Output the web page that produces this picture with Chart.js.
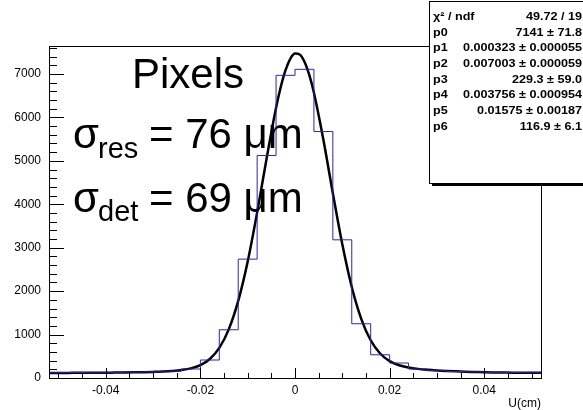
<!DOCTYPE html>
<html>
<head>
<meta charset="utf-8">
<script src="https://cdn.jsdelivr.net/npm/chart.js@4"></script>
<style>
  body { margin: 0; background: #fff; }
  canvas { display: block; }
</style>
</head>
<body>
<canvas id="resChart" width="583" height="410"></canvas>
<script>
// Histogram bin edges (cm) and bin contents
const binEdges = [-0.052, -0.048, -0.044, -0.040, -0.036, -0.032, -0.028, -0.024, -0.020, -0.016, -0.012, -0.008, -0.004,
                  0, 0.004, 0.008, 0.012, 0.016, 0.020, 0.024, 0.028, 0.032, 0.036, 0.040, 0.044, 0.048, 0.052];
const binCounts = [120, 125, 118, 130, 135, 140, 160, 207, 414, 1111, 2737, 5123, 6970,
                   7108, 5675, 3182, 1249, 535, 345, 207, 168, 150, 140, 130, 125, 120];

// Fit curve
const fitX = [-0.052, -0.050, -0.048, -0.046, -0.044, -0.042, -0.040, -0.038, -0.036, -0.034, -0.032, -0.030,
              -0.028, -0.026, -0.024, -0.022, -0.020, -0.018, -0.016, -0.014, -0.012, -0.010, -0.008, -0.006,
              -0.004, -0.003, -0.002, -0.001, 0, 0.001, 0.002, 0.003, 0.004, 0.006, 0.008, 0.010, 0.012, 0.014,
              0.016, 0.018, 0.020, 0.022, 0.024, 0.026, 0.028, 0.030, 0.032, 0.034, 0.036, 0.038, 0.040,
              0.042, 0.044, 0.046, 0.048, 0.050, 0.052];
const fitY = [117, 118, 118, 119, 119, 120, 122, 124, 126, 130, 135, 141,
              149, 162, 183, 222, 296, 438, 694, 1120, 1774, 2683, 3814, 5056,
              6222, 6707, 7090, 7351, 7473, 7450, 7284, 6984, 6568, 5485, 4254, 3078, 2095, 1363,
              869, 564, 389, 293, 241, 210, 190, 175, 163, 153, 145, 139, 133,
              129, 126, 123, 121, 120, 119];

// Axis ticks
const xTickValues = [-0.04, -0.02, 0, 0.02, 0.04];
const xTickLabels = ['-0.04', '-0.02', '0', '0.02', '0.04'];
const yTickValues = [0, 1000, 2000, 3000, 4000, 5000, 6000, 7000];

// Fit results box
const statNames = ['\u03c7\u00b2 / ndf', 'p0', 'p1', 'p2', 'p3', 'p4', 'p5', 'p6'];
const statValues = ['49.72 / 19', '7141 \u00b1 71.8', '0.000323 \u00b1 0.000055', '0.007003 \u00b1 0.000059',
                    '229.3 \u00b1 59.0', '0.003756 \u00b1 0.000954', '0.01575 \u00b1 0.00187', '116.9 \u00b1 6.1'];

const FONT = '"Liberation Sans", Arial, Helvetica, sans-serif';

// ROOT style frame, inward ticks, labels and stats box
const rootStyle = {
    id: 'rootStyle',
    afterDraw(chart) {
        const ctx = chart.ctx;
        const a = chart.chartArea;
        const xs = chart.scales.x, ys = chart.scales.y;
        ctx.save();
        ctx.strokeStyle = '#000';
        ctx.lineWidth = 1;
        ctx.strokeRect(Math.round(a.left) + 0.5, Math.round(a.top) + 0.5,
                       Math.round(a.right - a.left), Math.round(a.bottom - a.top));

        // y ticks every 200, major every 1000
        ctx.beginPath();
        for (let v = 0; v <= ys.max; v += 200) {
            const y = Math.round(ys.getPixelForValue(v)) + 0.5;
            const len = v % 1000 === 0 ? 15 : 8;
            ctx.moveTo(a.left, y);
            ctx.lineTo(a.left + len, y);
        }
        // x ticks every 0.005, major every 0.02
        for (let i = -10; i <= 10; i++) {
            const x = Math.round(xs.getPixelForValue(i * 0.005)) + 0.5;
            const len = i % 4 === 0 ? 10 : 5;
            ctx.moveTo(x, a.bottom);
            ctx.lineTo(x, a.bottom - len);
        }
        ctx.stroke();

        // axis title
        ctx.fillStyle = '#000';
        ctx.font = '12px ' + FONT;
        ctx.textAlign = 'right';
        ctx.textBaseline = 'alphabetic';
        ctx.fillText('U(cm)', a.right, 407);

        // annotation text
        ctx.textAlign = 'left';
        ctx.font = '42px ' + FONT;
        ctx.fillText('Pixels', 132, 88);
        ctx.fillText('\u03c3', 73, 148);
        ctx.fillText('= 76 \u03bcm', 149, 148);
        ctx.fillText('\u03c3', 73, 212);
        ctx.fillText('= 69 \u03bcm', 149, 212);
        ctx.font = '29px ' + FONT;
        ctx.fillText('res', 98, 158);
        ctx.fillText('det', 98, 221);

        // stats box
        const bx = 429, by = 1, bw = 160, bh = 182;
        ctx.fillStyle = '#000';
        ctx.fillRect(bx + 3, by + 3, bw, bh);
        ctx.fillStyle = '#fff';
        ctx.fillRect(bx, by, bw, bh);
        ctx.strokeRect(bx + 0.5, by + 0.5, bw, bh);
        ctx.fillStyle = '#000';
        ctx.font = 'bold 10.5px ' + FONT;
        ctx.textBaseline = 'middle';
        statNames.forEach((n, i) => {
            const y = 17 + i * 15.7;
            ctx.save();
            ctx.translate(0, y);
            ctx.scale(1.2, 1);
            ctx.textAlign = 'left';
            ctx.fillText(n, 433 / 1.2, 0);
            ctx.textAlign = 'right';
            ctx.fillText(statValues[i], 582 / 1.2, 0);
            ctx.restore();
        });
        ctx.restore();
    }
};

const ctx = document.getElementById('resChart').getContext('2d');
const resChart = new Chart(ctx, {
    type: 'line',
    data: {
        datasets: [{
            label: 'hist',
            data: binEdges.map((x, i) => ({ x: x, y: binCounts[Math.min(i, binCounts.length - 1)] })),
            stepped: 'before',
            borderColor: '#2626b8',
            borderWidth: 1,
            pointRadius: 0,
            fill: false
        }, {
            label: 'fit',
            data: fitX.map((x, i) => ({ x: x, y: fitY[i] })),
            borderColor: '#000',
            borderWidth: 2.5,
            pointRadius: 0,
            cubicInterpolationMode: 'monotone',
            fill: false
        }]
    },
    options: {
        responsive: false,
        animation: false,
        devicePixelRatio: 1,
        layout: { padding: { top: 46, right: 42, left: 0, bottom: 0 } },
        plugins: { legend: { display: false }, tooltip: { enabled: false } },
        scales: {
            x: {
                type: 'linear',
                min: -0.052,
                max: 0.052,
                grid: { display: false, drawTicks: false },
                border: { display: false },
                afterBuildTicks: s => { s.ticks = xTickValues.map(v => ({ value: v })); },
                afterFit: s => { s.height = 32; },
                ticks: {
                    padding: 5,
                    color: '#000',
                    maxRotation: 0,
                    autoSkip: false,
                    font: { family: FONT, size: 12 },
                    callback: v => xTickLabels[xTickValues.indexOf(v)]
                }
            },
            y: {
                min: 0,
                max: 7645,
                grid: { display: false, drawTicks: false },
                border: { display: false },
                afterBuildTicks: s => { s.ticks = yTickValues.map(v => ({ value: v })); },
                afterFit: s => { s.width = 49; },
                ticks: {
                    padding: 8,
                    color: '#000',
                    font: { family: FONT, size: 12 },
                    callback: v => String(v)
                }
            }
        }
    },
    plugins: [rootStyle]
});
</script>
</body>
</html>
